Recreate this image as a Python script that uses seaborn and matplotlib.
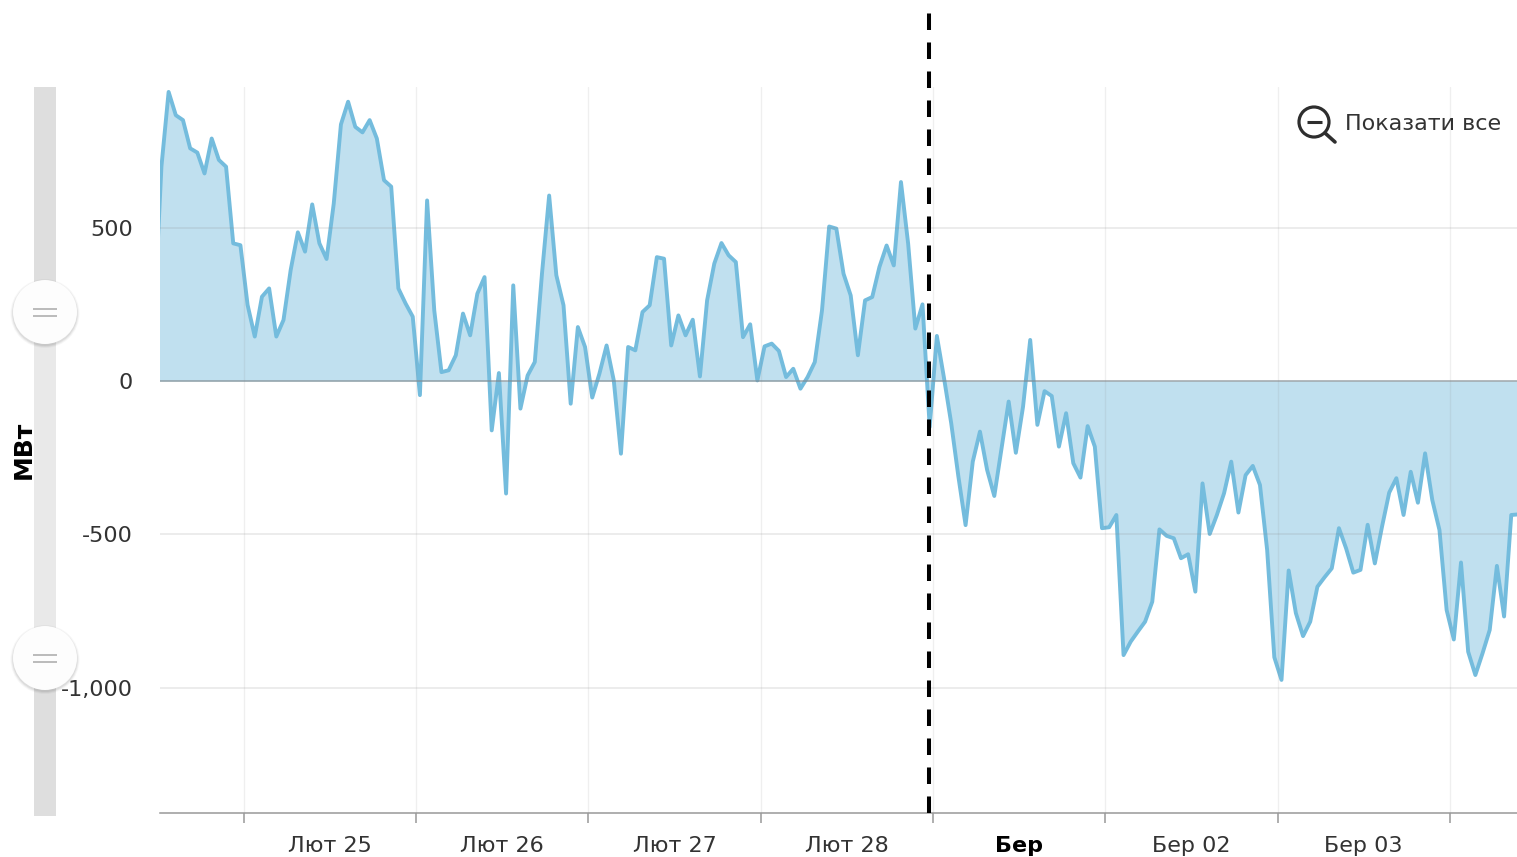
import matplotlib
matplotlib.use("Agg")
import matplotlib.pyplot as plt
import matplotlib.patches as mpatches
import numpy as np
import pandas as pd
import seaborn as sns

series_start = "2015-02-24 11:33"
mw = [
    210, 700, 943, 867, 851, 759, 745, 677, 791, 721, 699, 449, 443, 248, 145, 275, 302, 145, 199, 362,
    485, 422, 576, 449, 398, 579, 837, 911, 829, 811, 851, 791, 655, 634, 302, 253, 210, -46, 589, 230,
    29, 35, 84, 220, 149, 285, 339, -161, 26, -367, 312, -90, 18, 62, 350, 605, 345, 247, -74, 176,
    111, -54, 24, 116, 2, -237, 111, 100, 225, 247, 404, 399, 116, 214, 149, 200, 15, 263, 383, 450,
    410, 388, 143, 185, 2, 113, 122, 98, 13, 40, -25, 13, 62, 230, 504, 497, 350, 279, 84, 263,
    274, 372, 442, 377, 649, 448, 171, 250, -150, 147, 9, -138, -312, -470, -263, -165, -290, -375, -220, -67,
    -234, -84, 134, -143, -33, -49, -214, -105, -268, -315, -147, -214, -480, -477, -437, -894, -850, -817, -785, -720,
    -484, -505, -513, -578, -565, -687, -334, -499, -437, -366, -263, -429, -307, -277, -339, -551, -901, -975, -618, -757,
    -832, -785, -671, -640, -611, -480, -546, -625, -616, -469, -595, -475, -364, -317, -437, -296, -397, -236, -388, -486,
    -747, -843, -592, -883, -959, -888, -812, -603, -768, -437, -435, -520,
]
day_ticks = ["2015-02-25", "2015-02-26", "2015-02-27", "2015-02-28",
             "2015-03-01", "2015-03-02", "2015-03-03", "2015-03-04"]
day_labels = ["Лют 25", "Лют 26", "Лют 27", "Лют 28", "Бер", "Бер 02", "Бер 03"]
y_ticks = [500, 0, -500, -1000]
y_tick_labels = ["500", "0", "-500", "-1,000"]
y_title = "МВт"
zoom_label = "Показати все"
marker_time = "2015-02-28 23:27"

W, H = 1517, 857
LINE = "#74bcdd"
TEXT = "#333333"

sns.set_theme(style="white")
plt.rcParams["font.family"] = ["DejaVu Sans"]

df = pd.DataFrame({"time": pd.date_range(series_start, periods=len(mw), freq="h"), "mw": mw})

fig = plt.figure(figsize=(W / 100, H / 100), dpi=100, facecolor="white")
ax = fig.add_axes([159.5 / W, (H - 813) / H, (W - 159.5) / W, (813 - 87) / H])

ax.fill_between(df["time"], df["mw"], 0, color=LINE, alpha=0.45, linewidth=0, zorder=2)
sns.lineplot(data=df, x="time", y="mw", ax=ax, color=LINE, linewidth=2.8, zorder=3,
             errorbar=None, legend=False)

t0 = pd.Timestamp(day_ticks[0])
ax.set_xlim(t0 - pd.Timedelta(hours=11.72), t0 + pd.Timedelta(hours=177.35))
ax.set_ylim(-1409, 959)

major = [pd.Timestamp(d) for d in day_ticks]
minor = [pd.Timestamp(d) + pd.Timedelta(hours=12) for d in day_ticks[:len(day_labels)]]
ax.set_xticks(major)
ax.set_xticklabels([""] * len(major))
ax.set_xticks(minor, minor=True)
ax.set_xticklabels(day_labels, minor=True)
ax.tick_params(axis="x", which="major", length=7, width=1.1, color="#999999", bottom=True)
ax.tick_params(axis="x", which="minor", length=0, pad=16.5, labelsize=16, labelcolor=TEXT)
for lab in ax.xaxis.get_minorticklabels():
    if lab.get_text() == "Бер":
        lab.set_fontweight("bold")
        lab.set_color("black")

ax.set_yticks(y_ticks)
ax.set_yticklabels(y_tick_labels)
ax.tick_params(axis="y", length=0, pad=19, labelsize=16, labelcolor=TEXT)

ax.grid(False)
for xt in major:
    ax.axvline(xt, color="#888888", alpha=0.13, linewidth=1.0, zorder=4)
for yt in y_ticks:
    if yt != 0:
        ax.axhline(yt, color="#888888", alpha=0.2, linewidth=1.1, zorder=4)
ax.axhline(0, color="#7f8a90", alpha=0.6, linewidth=1.4, zorder=4)

for side in ["top", "left", "right"]:
    ax.spines[side].set_visible(False)
ax.spines["bottom"].set_color("#999999")
ax.spines["bottom"].set_linewidth(1.1)

ax.set_xlabel("")
ax.set_ylabel(y_title, fontsize=18, fontweight="bold", color="black")
ax.yaxis.set_label_coords((36 - 159.5) / (W - 159.5), (813 - 450) / (813 - 87))

ax.axvline(pd.Timestamp(marker_time), ymin=0, ymax=(813 - 13) / (813 - 87), color="black",
           linewidth=2.9, dashes=(4.1, 3.1), dash_capstyle="butt", clip_on=False, zorder=6)

# widgets drawn in pixel space on a transparent overlay
ov = fig.add_axes([0, 0, 1, 1], zorder=10)
ov.set_xlim(0, W)
ov.set_ylim(H, 0)
ov.axis("off")
ov.patch.set_alpha(0)

ov.add_patch(mpatches.Rectangle((34, 87), 22.5, 729, color="#dedede", lw=0))
ov.add_patch(mpatches.Rectangle((34, 312), 22.5, 346, color="#e9e9e9", lw=0))
for cy in (312, 658):
    for r, a in ((34.5, 0.03), (33.5, 0.05), (32.5, 0.06)):
        ov.add_patch(mpatches.Circle((45, cy + 1.5), r, color="black", alpha=a, lw=0))
    ov.add_patch(mpatches.Circle((45, cy), 32, color="#fdfdfd", lw=0))
    for dy in (-3.5, 3.5):
        ov.plot([33.5, 57], [cy + dy, cy + dy], color="#b5b5b5", lw=1.3, solid_capstyle="butt")

ov.add_patch(mpatches.Circle((1314, 122), 15, fill=False, ec="#2e2e2e", lw=2.3))
ov.plot([1307, 1322], [122, 122], color="#2e2e2e", lw=2.2, solid_capstyle="butt")
ov.plot([1325, 1335], [133, 142], color="#2e2e2e", lw=2.6, solid_capstyle="round")
ov.text(1345, 123.5, zoom_label, fontsize=16, color=TEXT, va="center", ha="left")

fig.savefig("out.png", dpi=100, facecolor="white")
